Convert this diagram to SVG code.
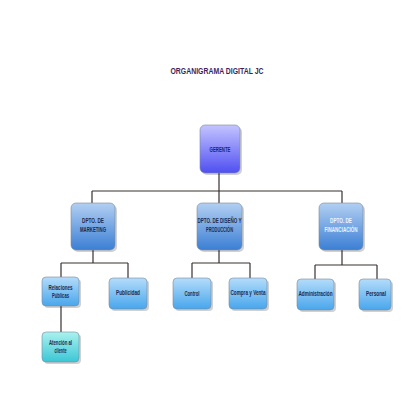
<svg xmlns="http://www.w3.org/2000/svg" width="414" height="414" viewBox="0 0 414 414">
<defs>
<linearGradient id="gPurple" x1="0" y1="0" x2="0" y2="1"><stop offset="0" stop-color="#c4c4ff"/><stop offset="1" stop-color="#4f4ff2"/></linearGradient>
<linearGradient id="gBlue" x1="0" y1="0" x2="0" y2="1"><stop offset="0" stop-color="#b2cff2"/><stop offset="1" stop-color="#3b7fd4"/></linearGradient>
<linearGradient id="gSky" x1="0" y1="0" x2="0" y2="1"><stop offset="0" stop-color="#b4dcfa"/><stop offset="1" stop-color="#48a6ec"/></linearGradient>
<linearGradient id="gTeal" x1="0" y1="0" x2="0" y2="1"><stop offset="0" stop-color="#aaf2ee"/><stop offset="1" stop-color="#3cc6d6"/></linearGradient>
</defs>
<style>
.sh{fill:#000;opacity:0.18}
.bx{stroke:#7a8aa0;stroke-width:0.6}
.t{font-family:"Liberation Sans",Arial,sans-serif;font-size:6.5px;font-weight:bold;fill:#1c2a50;text-anchor:middle}
.tw{fill:#eef3ff}
.c{fill:none;stroke:#3a3030;stroke-width:1.2}
.title{font-family:"Liberation Sans",Arial,sans-serif;font-size:9px;font-weight:bold;fill:#3c1f5e;text-anchor:middle}
</style>
<rect width="414" height="414" fill="#ffffff"/>
<text class="title" x="217" y="74" textLength="93" lengthAdjust="spacingAndGlyphs">ORGANIGRAMA DIGITAL JC</text>
<g id="connectors">
<path class="c" d="M219 173V191M92 191H342M92 191V203M219 191V203M342 191V203"/>
<path class="c" d="M93 250V263M61 263H128M61 263V277M128 263V278"/>
<path class="c" d="M219 250V263M192 263H250M192 263V278M250 263V278"/>
<path class="c" d="M342 250V265M315 265H377M315 265V279M377 265V279"/>
<path class="c" d="M61 306V332"/>
</g>
<g id="gerente"><rect class="sh" x="202" y="127" width="40" height="48" rx="5"/><rect class="bx" x="200" y="125" width="40" height="48" rx="5" fill="url(#gPurple)"/><text class="t" x="220" y="151.5" textLength="21" lengthAdjust="spacingAndGlyphs">GERENTE</text></g>
<g id="marketing"><rect class="sh" x="73" y="205" width="44" height="47" rx="5"/><rect class="bx" x="71" y="203" width="44" height="47" rx="5" fill="url(#gBlue)"/><text class="t" x="93" y="223" textLength="22" lengthAdjust="spacingAndGlyphs">DPTO. DE</text><text class="t" x="93" y="231.5" textLength="26" lengthAdjust="spacingAndGlyphs">MARKETING</text></g>
<g id="diseno"><rect class="sh" x="199" y="205" width="45" height="47" rx="5"/><rect class="bx" x="197" y="203" width="45" height="47" rx="5" fill="url(#gBlue)"/><text class="t" x="219.5" y="223" textLength="44" lengthAdjust="spacingAndGlyphs">DPTO. DE DISEÑO Y</text><text class="t" x="219.5" y="231.5" textLength="27" lengthAdjust="spacingAndGlyphs">PRODUCCIÓN</text></g>
<g id="financiacion"><rect class="sh" x="321" y="205" width="44" height="47" rx="5"/><rect class="bx" x="319" y="203" width="44" height="47" rx="5" fill="url(#gBlue)"/><text class="t tw" x="341" y="223" textLength="22" lengthAdjust="spacingAndGlyphs">DPTO. DE</text><text class="t tw" x="341" y="231.5" textLength="33" lengthAdjust="spacingAndGlyphs">FINANCIACIÓN</text></g>
<g id="relaciones"><rect class="sh" x="44" y="279" width="37" height="29" rx="4"/><rect class="bx" x="42" y="277" width="37" height="29" rx="4" fill="url(#gSky)"/><text class="t" x="60.5" y="289.5" textLength="24" lengthAdjust="spacingAndGlyphs">Relaciones</text><text class="t" x="60.5" y="297.5" textLength="17" lengthAdjust="spacingAndGlyphs">Públicas</text></g>
<g id="publicidad"><rect class="sh" x="111" y="280" width="38" height="31" rx="4"/><rect class="bx" x="109" y="278" width="38" height="31" rx="4" fill="url(#gSky)"/><text class="t" x="128" y="294.5" textLength="24" lengthAdjust="spacingAndGlyphs">Publicidad</text></g>
<g id="control"><rect class="sh" x="175" y="280" width="38" height="31" rx="4"/><rect class="bx" x="173" y="278" width="38" height="31" rx="4" fill="url(#gSky)"/><text class="t" x="192" y="296" textLength="15" lengthAdjust="spacingAndGlyphs">Control</text></g>
<g id="compra"><rect class="sh" x="231" y="280" width="38" height="31" rx="4"/><rect class="bx" x="229" y="278" width="38" height="31" rx="4" fill="url(#gSky)"/><text class="t" x="248" y="295" textLength="35" lengthAdjust="spacingAndGlyphs">Compra y Venta</text></g>
<g id="administracion"><rect class="sh" x="299" y="281" width="37" height="31" rx="4"/><rect class="bx" x="297" y="279" width="37" height="31" rx="4" fill="url(#gSky)"/><text class="t" x="315.5" y="296" textLength="34" lengthAdjust="spacingAndGlyphs">Administración</text></g>
<g id="personal"><rect class="sh" x="361" y="281" width="32" height="31" rx="4"/><rect class="bx" x="359" y="279" width="32" height="31" rx="4" fill="url(#gSky)"/><text class="t" x="376" y="296" textLength="20" lengthAdjust="spacingAndGlyphs">Personal</text></g>
<g id="atencion"><rect class="sh" x="44" y="334" width="37" height="30" rx="4"/><rect class="bx" x="42" y="332" width="37" height="30" rx="4" fill="url(#gTeal)"/><text class="t" x="60.5" y="345" textLength="23" lengthAdjust="spacingAndGlyphs">Atención al</text><text class="t" x="60.5" y="353" textLength="12" lengthAdjust="spacingAndGlyphs">cliente</text></g>
</svg>
